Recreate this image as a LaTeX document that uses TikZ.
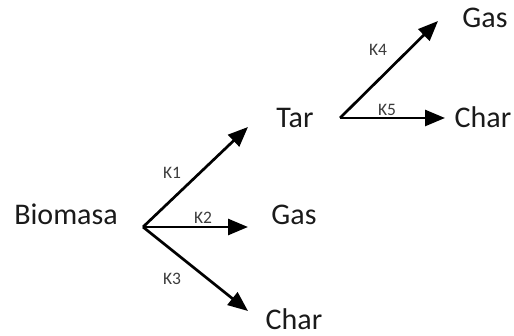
\documentclass[tikz,border=0pt]{standalone}
\usepackage{fontspec}
\setmainfont{Carlito}
\usetikzlibrary{arrows.meta}
\definecolor{ink}{HTML}{1A1A1A}
\tikzset{
  species/.style={anchor=base, inner sep=0pt, text=ink, font=\fontsize{30}{32}\selectfont},
  rate/.style={anchor=center, inner sep=0pt, text=ink!85, font=\fontsize{17.5}{19}\selectfont},
  path/.style={line width=2.7pt, draw=black, -{Triangle[length=20pt,width=16pt]}}
}
\begin{document}
\begin{tikzpicture}[x=1pt,y=-1pt]
  \useasboundingbox (0,0) rectangle (514,336);
  % species
  \node[species] (bio)   at (66,225)  {Biomasa};
  \node[species] (tar)   at (295,128) {Tar};
  \node[species] (gas1)  at (294,225) {Gas};
  \node[species] (char1) at (294,330) {Char};
  \node[species] (gas2)  at (485,28)  {Gas};
  \node[species] (char2) at (483,128) {Char};
  % branching points and arrow ends
  \coordinate (o1) at (143,227);
  \coordinate (t1) at (248,127);
  \coordinate (t2) at (248,227);
  \coordinate (t3) at (248,311);
  \coordinate (o2) at (340,118);
  \coordinate (t4) at (438,21);
  \coordinate (t5) at (445,118);
  % reactions
  \draw[path] (o1) -- (t1);
  \draw[path] (o1) -- (t2);
  \draw[path] (o1) -- (t3);
  \draw[path] (o2) -- (t4);
  \draw[path] (o2) -- (t5);
  % rate constants
  \node[rate] (k1) at (172,173) {K1};
  \node[rate] (k2) at (203,218) {K2};
  \node[rate] (k3) at (172,279) {K3};
  \node[rate] (k4) at (378,50)  {K4};
  \node[rate] (k5) at (387,110) {K5};
\end{tikzpicture}
\end{document}
